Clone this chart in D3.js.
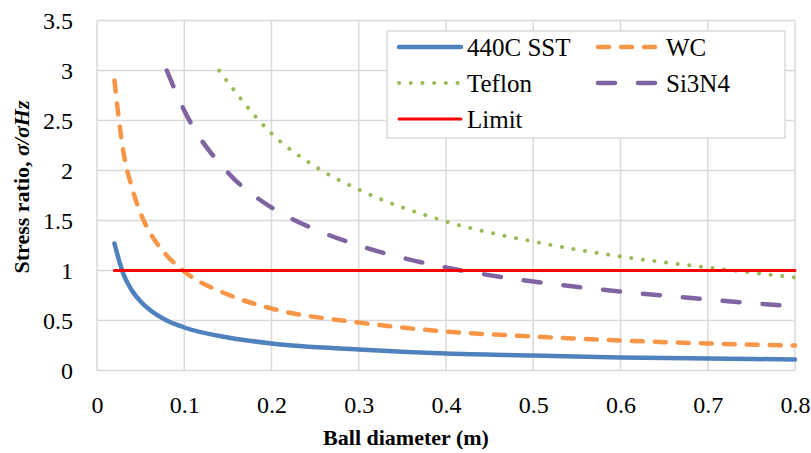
<!DOCTYPE html>
<html>
<head>
<meta charset="utf-8">
<script src="https://cdn.jsdelivr.net/npm/d3@7"></script>
<style>
    html, body { margin: 0; padding: 0; background: #fff; }
    svg { display: block; }
    svg text { font-family: 'Liberation Serif', 'Times New Roman', serif; }
</style>
</head>
<body>
<div id="chart"></div>
<script>
// data
const sstX = [0.02, 0.03, 0.04, 0.05, 0.06, 0.08, 0.1, 0.15, 0.2, 0.3, 0.4, 0.5, 0.6, 0.7, 0.8];
const sstY = [1.27, 0.97, 0.80, 0.69, 0.61, 0.50, 0.43, 0.33, 0.27, 0.21, 0.17, 0.15, 0.13, 0.12, 0.11];

const wcX = [0.02, 0.03, 0.04, 0.05, 0.06, 0.08, 0.1, 0.15, 0.2, 0.3, 0.4, 0.5, 0.6, 0.7, 0.8];
const wcY = [2.90, 2.20, 1.83, 1.57, 1.39, 1.15, 0.99, 0.76, 0.62, 0.48, 0.39, 0.34, 0.30, 0.27, 0.25];

const tefX = [0.14, 0.2, 0.25, 0.3, 0.4, 0.5, 0.6, 0.7, 0.8];
const tefY = [3.00, 2.37, 2.04, 1.81, 1.49, 1.29, 1.14, 1.03, 0.93];

const siX = [0.08, 0.1, 0.15, 0.2, 0.25, 0.3, 0.4, 0.5, 0.6, 0.7, 0.8];
const siY = [3.00, 2.60, 1.98, 1.63, 1.41, 1.25, 1.03, 0.89, 0.79, 0.71, 0.64];

const limitX = [0.02, 0.8];
const limitY = [1, 1];

const xTicks = [0, 0.1, 0.2, 0.3, 0.4, 0.5, 0.6, 0.7, 0.8];
const yTicks = [0, 0.5, 1, 1.5, 2, 2.5, 3, 3.5];

const series = [
    { name: '440C SST', xs: sstX, ys: sstY, color: '#4F81BD', width: 4.5, dash: null },
    { name: 'WC', xs: wcX, ys: wcY, color: '#F79646', width: 4.5, dash: '11 12' },
    { name: 'Teflon', xs: tefX, ys: tefY, color: '#9BBB59', width: 4, dash: '0.1 11.6' },
    { name: 'Si3N4', xs: siX, ys: siY, color: '#8064A2', width: 4.5, dash: '17 23' },
    { name: 'Limit', xs: limitX, ys: limitY, color: '#FF0000', width: 3, dash: null }
];

const FONT = 'Liberation Serif';
const width = 811, height = 453;
const margin = { top: 20.5, right: 16, bottom: 82.5, left: 97 };

const svg = d3.select('#chart').append('svg')
    .attr('width', width)
    .attr('height', height)
    .style('font-family', FONT);

const x = d3.scaleLinear().domain([0, 0.8]).range([margin.left, width - margin.right]);
const y = d3.scaleLinear().domain([0, 3.5]).range([height - margin.bottom, margin.top]);

// grid
const grid = svg.append('g').attr('stroke', '#d9d9d9').attr('stroke-width', 1.5);
grid.selectAll('.gx').data(xTicks).enter().append('line')
    .attr('x1', d => x(d)).attr('x2', d => x(d))
    .attr('y1', y(0)).attr('y2', y(3.5));
grid.selectAll('.gy').data(yTicks).enter().append('line')
    .attr('x1', x(0)).attr('x2', x(0.8))
    .attr('y1', d => y(d)).attr('y2', d => y(d));

// axes (labels only, lines are the grid)
const xAxis = svg.append('g')
    .attr('transform', `translate(0,${y(0)})`)
    .call(d3.axisBottom(x).tickValues(xTicks).tickSize(0).tickPadding(25).tickFormat(d3.format('')));
const yAxis = svg.append('g')
    .attr('transform', `translate(${x(0)},0)`)
    .call(d3.axisLeft(y).tickValues(yTicks).tickSize(0).tickPadding(24).tickFormat(d3.format('')));
[xAxis, yAxis].forEach(a => {
    a.attr('font-family', FONT).attr('font-size', 24);
    a.select('.domain').remove();
    a.selectAll('text').attr('fill', '#000');
});

// lines
const line = d3.line().x(d => x(d[0])).y(d => y(d[1])).curve(d3.curveMonotoneX);
series.forEach(s => {
    const pts = s.xs.map((v, i) => [v, s.ys[i]]);
    svg.append('path')
        .datum(pts)
        .attr('d', line)
        .attr('fill', 'none')
        .attr('stroke', s.color)
        .attr('stroke-width', s.width)
        .attr('stroke-linecap', 'round')
        .attr('stroke-dasharray', s.dash);
});

// legend
const lg = svg.append('g');
lg.append('rect')
    .attr('x', 387).attr('y', 31)
    .attr('width', 398).attr('height', 107)
    .attr('fill', '#fff')
    .attr('stroke', '#dcdcd4').attr('stroke-width', 1.5);

series.forEach((s, i) => {
    const col = i % 2, row = Math.floor(i / 2);
    const lx = col === 0 ? 399 : 598;
    const ly = 47 + row * 36;
    lg.append('line')
        .attr('x1', lx).attr('x2', lx + 62)
        .attr('y1', ly).attr('y2', ly)
        .attr('stroke', s.color)
        .attr('stroke-width', s.width)
        .attr('stroke-linecap', 'round')
        .attr('stroke-dasharray', s.dash);
    lg.append('text')
        .attr('x', lx + 68).attr('y', ly)
        .attr('dy', '0.35em')
        .attr('font-family', FONT).attr('font-size', 25)
        .text(s.name);
});

// axis titles
svg.append('text')
    .attr('x', 406).attr('y', 445)
    .attr('text-anchor', 'middle')
    .attr('font-family', FONT).attr('font-size', 22).attr('font-weight', 'bold')
    .text('Ball diameter (m)');

const yt = svg.append('text')
    .attr('transform', 'translate(29,187) rotate(-90)')
    .attr('text-anchor', 'middle')
    .attr('font-family', FONT).attr('font-size', 22).attr('font-weight', 'bold');
yt.append('tspan').text('Stress ratio, ');
yt.append('tspan').attr('font-style', 'italic').text('σ/σHz');
</script>
</body>
</html>
